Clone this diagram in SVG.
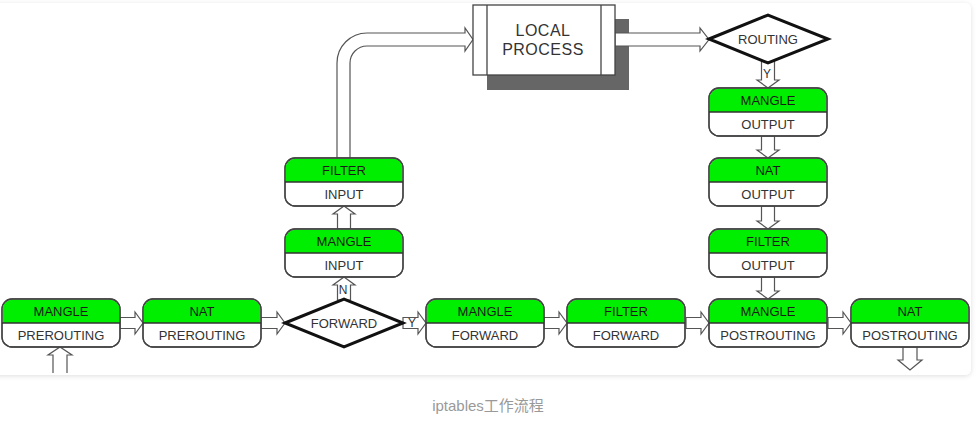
<svg xmlns="http://www.w3.org/2000/svg" width="976" height="421" viewBox="0 0 976 421">
<defs>
<style>
.box{fill:#fff;stroke:#444;stroke-width:1.3}
.top{fill:#00ee00}
.div{stroke:#333;stroke-width:1.3}
.t{font-family:"Liberation Sans",Arial,sans-serif;font-size:13px;text-anchor:middle}
.tg{fill:#1a1a1a}
.tw{fill:#333}
.arr{fill:#fff;stroke:#555;stroke-width:1.2;stroke-linejoin:miter}
.dia{fill:#fff;stroke:#111;stroke-width:3}
.lbl{font-family:"Liberation Sans",Arial,sans-serif;font-size:12px;fill:#333;text-anchor:middle}
</style>
<filter id="sh" x="-5%" y="-5%" width="110%" height="115%">
<feDropShadow dx="0" dy="1" stdDeviation="2.5" flood-color="#000" flood-opacity="0.13"/>
</filter>
<g id="node">
<rect class="box" x="0" y="0" width="118" height="48" rx="10"/>
<path class="top" d="M0.7,24 L0.7,10 A9.3,9.3 0 0 1 10,0.7 L108,0.7 A9.3,9.3 0 0 1 117.3,10 L117.3,24 Z"/>
<rect x="0" y="0" width="118" height="48" rx="10" fill="none" stroke="#444" stroke-width="1.3"/>
<line class="div" x1="0" y1="24" x2="118" y2="24"/>
</g>
</defs>
<rect x="0" y="0" width="976" height="421" fill="#fff"/>
<rect x="-10" y="3" width="981" height="372" rx="6" fill="#fff" filter="url(#sh)"/>

<g id="connectors">
<polygon class="arr" points="120,317.5 135,317.5 135,312 143,323 135,334 135,328.5 120,328.5"/>
<polygon class="arr" points="261,317.5 277,317.5 277,312 285,323 277,334 277,328.5 261,328.5"/>
<polygon class="arr" points="403,317.5 418,317.5 418,312 426,323 418,334 418,328.5 403,328.5"/>
<polygon class="arr" points="544,317.5 559,317.5 559,312 567,323 559,334 559,328.5 544,328.5"/>
<polygon class="arr" points="686,317.5 701,317.5 701,312 709,323 701,334 701,328.5 686,328.5"/>
<polygon class="arr" points="828,317.5 843,317.5 843,312 851,323 843,334 843,328.5 828,328.5"/>
<path class="arr" d="M53,373 L53,355 L48,355 L60,347 L72,355 L67,355 L67,373"/>
<polygon class="arr" points="903,347 903,360 898,360 910,370 922,360 917,360 917,347"/>
<polygon class="arr" points="337.5,300 337.5,285 333,285 344,277 355,285 350.5,285 350.5,300"/>
<polygon class="arr" points="337.5,229 337.5,214 333,214 344,206 355,214 350.5,214 350.5,229"/>
<path class="arr" d="M337,158 L337,63 A30,30 0 0 1 367,33 L465,33 L465,28 L473,39.5 L465,51 L465,46 L367,46 A17,17 0 0 0 350,63 L350,158"/>
<polygon class="arr" points="761.5,60 761.5,80 757,80 768,88 779,80 774.5,80 774.5,60"/>
<polygon class="arr" points="761.5,136 761.5,150 757,150 768,158 779,150 774.5,150 774.5,136"/>
<polygon class="arr" points="761.5,206 761.5,221 757,221 768,229 779,221 774.5,221 774.5,206"/>
<polygon class="arr" points="761.5,277 761.5,291 757,291 768,299 779,291 774.5,291 774.5,277"/>
</g>

<g id="local-process">
<rect x="487" y="19" width="142" height="71" fill="#666"/>
<polygon class="arr" points="615,33 700,33 700,28 709,39.5 700,51 700,46 615,46"/>
<rect x="473" y="5" width="142" height="70" fill="#fff" stroke="#444" stroke-width="1.3"/>
<line x1="487" y1="5" x2="487" y2="75" stroke="#444" stroke-width="1.3"/>
<line x1="601" y1="5" x2="601" y2="75" stroke="#444" stroke-width="1.3"/>
<text x="543" y="36" font-family="Liberation Sans,Arial,sans-serif" font-size="16" fill="#333" text-anchor="middle" letter-spacing="0.5">LOCAL</text>
<text x="543" y="55" font-family="Liberation Sans,Arial,sans-serif" font-size="16" fill="#333" text-anchor="middle" letter-spacing="0.5">PROCESS</text>
</g>

<g id="routing">
<polygon class="dia" points="709,39 768,15 828,39 768,63"/>
<text class="t tw" x="768" y="44">ROUTING</text>
</g>

<g id="forward">
<polygon class="dia" points="285,323 344,299 403,323 344,347"/>
<text class="t tw" x="344" y="328">FORWARD</text>
</g>

<g id="labels">
<text class="lbl" x="412" y="327">Y</text>
<text class="lbl" x="343" y="294">N</text>
<text class="lbl" x="767" y="78">Y</text>
</g>

<g id="mangle-prerouting">
<use href="#node" x="2" y="299"/>
<text class="t tg" x="61" y="316">MANGLE</text>
<text class="t tw" x="61" y="340">PREROUTING</text>
</g>
<g id="nat-prerouting">
<use href="#node" x="143" y="299"/>
<text class="t tg" x="202" y="316">NAT</text>
<text class="t tw" x="202" y="340">PREROUTING</text>
</g>
<g id="mangle-forward">
<use href="#node" x="426" y="299"/>
<text class="t tg" x="485" y="316">MANGLE</text>
<text class="t tw" x="485" y="340">FORWARD</text>
</g>
<g id="filter-forward">
<use href="#node" x="567" y="299"/>
<text class="t tg" x="626" y="316">FILTER</text>
<text class="t tw" x="626" y="340">FORWARD</text>
</g>
<g id="mangle-postrouting">
<use href="#node" x="709" y="299"/>
<text class="t tg" x="768" y="316">MANGLE</text>
<text class="t tw" x="768" y="340">POSTROUTING</text>
</g>
<g id="nat-postrouting">
<use href="#node" x="851" y="299"/>
<text class="t tg" x="910" y="316">NAT</text>
<text class="t tw" x="910" y="340">POSTROUTING</text>
</g>
<g id="mangle-input">
<use href="#node" x="285" y="229"/>
<text class="t tg" x="344" y="246">MANGLE</text>
<text class="t tw" x="344" y="270">INPUT</text>
</g>
<g id="filter-input">
<use href="#node" x="285" y="158"/>
<text class="t tg" x="344" y="175">FILTER</text>
<text class="t tw" x="344" y="199">INPUT</text>
</g>
<g id="mangle-output">
<use href="#node" x="709" y="88"/>
<text class="t tg" x="768" y="105">MANGLE</text>
<text class="t tw" x="768" y="129">OUTPUT</text>
</g>
<g id="nat-output">
<use href="#node" x="709" y="158"/>
<text class="t tg" x="768" y="175">NAT</text>
<text class="t tw" x="768" y="199">OUTPUT</text>
</g>
<g id="filter-output">
<use href="#node" x="709" y="229"/>
<text class="t tg" x="768" y="246">FILTER</text>
<text class="t tw" x="768" y="270">OUTPUT</text>
</g>

<text x="488" y="411" font-family="Liberation Sans,'Noto Sans CJK SC',sans-serif" font-size="15" fill="#999" text-anchor="middle">iptables工作流程</text>
</svg>
